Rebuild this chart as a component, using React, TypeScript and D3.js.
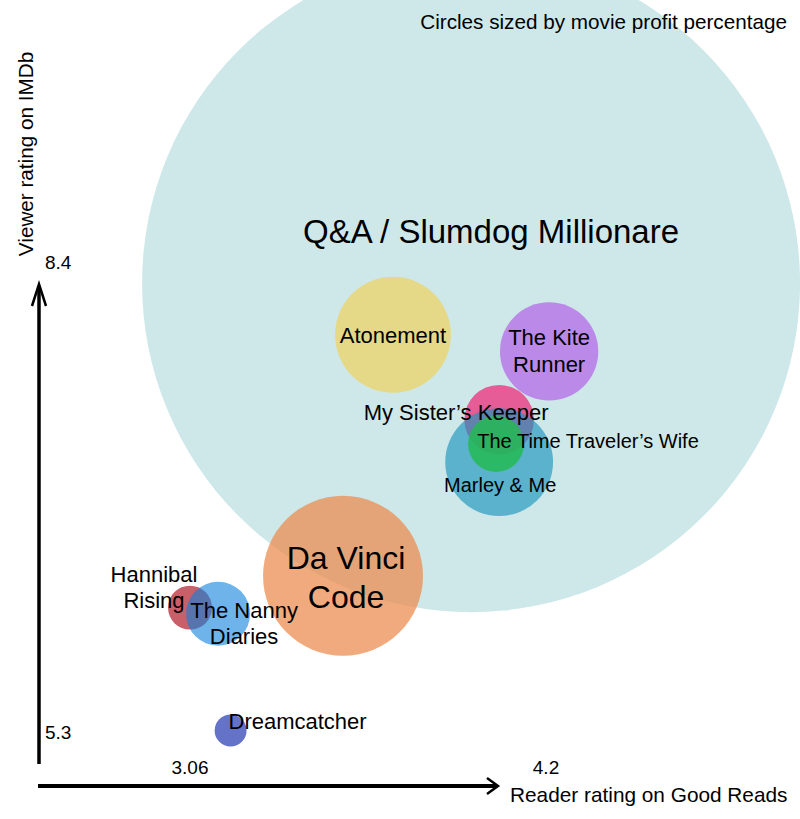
import React from "react";
import * as d3 from "d3";

// ---- data ----
const movies = [
  "Q&A / Slumdog Millionare",
  "Da Vinci Code",
  "Atonement",
  "The Kite Runner",
  "My Sister’s Keeper",
  "Marley & Me",
  "The Time Traveler’s Wife",
  "Hannibal Rising",
  "The Nanny Diaries",
  "Dreamcatcher",
];
const goodReadsRating = [3.96, 3.55, 3.71, 4.21, 4.05, 4.05, 4.04, 3.06, 3.15, 3.19];
const imdbRating = [8.28, 6.35, 7.94, 7.83, 7.38, 7.1, 7.22, 6.14, 6.1, 5.33];
const profitPct = [2420, 143, 75, 54, 27, 65, 17.5, 10.8, 22.9, 5.7];

const xTicks = [3.06, 4.2];
const yTicks = [5.3, 8.4];

// ---- styles / layout (not data) ----
const fills = [
  { c: "#cee8ea", o: 1 },
  { c: "rgb(235,142,82)", o: 0.75 },
  { c: "#e5d987", o: 1 },
  { c: "#bb89e8", o: 1 },
  { c: "#e65c96", o: 1 },
  { c: "rgb(28,149,188)", o: 0.65 },
  { c: "rgb(37,186,82)", o: 0.85 },
  { c: "#c85f69", o: 1 },
  { c: "rgb(13,130,222)", o: 0.6 },
  { c: "#6473c8", o: 1 },
];

// label layout: lines, offsets relative to bubble center, font size, anchor
const labelLayout = [
  { lines: ["Q&A / Slumdog Millionare"], dx: 20, dy: [-40], fs: 33, anchor: "middle" },
  { lines: ["Da Vinci", "Code"], dx: 3, dy: [-7, 32], fs: 32, anchor: "middle" },
  { lines: ["Atonement"], dx: 0, dy: [8], fs: 22, anchor: "middle" },
  { lines: ["The Kite", "Runner"], dx: 0, dy: [-6, 21], fs: 22, anchor: "middle" },
  { lines: ["My Sister’s Keeper"], dx: -43, dy: [0], fs: 22, anchor: "middle" },
  { lines: ["Marley & Me"], dx: 1, dy: [30], fs: 20, anchor: "middle" },
  { lines: ["The Time Traveler’s Wife"], dx: 92, dy: [4], fs: 20, anchor: "middle" },
  { lines: ["Hannibal", "Rising"], dx: -36, dy: [-26, 0], fs: 22, anchor: "middle" },
  { lines: ["The Nanny", "Diaries"], dx: 26, dy: [4, 30], fs: 22, anchor: "middle" },
  { lines: ["Dreamcatcher"], dx: 67, dy: [-1], fs: 22, anchor: "middle" },
];

const W = 800;
const H = 819;
const FONT = "'Liberation Sans', Arial, Helvetica, sans-serif";

const x = d3.scaleLinear().domain([3.06, 4.2]).range([190, 546]);
const y = d3.scaleLinear().domain([5.3, 8.4]).range([735, 265]);
const r = d3.scaleSqrt().domain([0, 2420]).range([0, 329]);

const axisX0 = 38;
const axisXEnd = 498;
const axisY = 786;
const yAxisX = 39;
const yAxisTop = 284;
const yAxisBottom = 764;

export default function App() {
  return (
    <svg
      width={W}
      height={H}
      viewBox={`0 0 ${W} ${H}`}
      style={{ position: "absolute", left: 0, top: 0, display: "block", background: "#fff" }}
      fontFamily={FONT}
    >
      {/* bubbles */}
      <g>
        {movies.map((m, i) => (
          <circle
            key={m}
            cx={x(goodReadsRating[i])}
            cy={y(imdbRating[i])}
            r={r(profitPct[i])}
            fill={fills[i].c}
            fillOpacity={fills[i].o}
          />
        ))}
      </g>

      {/* labels */}
      <g fill="#000">
        {movies.map((m, i) => {
          const L = labelLayout[i];
          const cx = x(goodReadsRating[i]) + L.dx;
          const cy = y(imdbRating[i]);
          return (
            <text key={m} textAnchor={L.anchor} fontSize={L.fs}>
              {L.lines.map((ln, j) => (
                <tspan key={j} x={cx} y={cy + L.dy[j]}>
                  {ln}
                </tspan>
              ))}
            </text>
          );
        })}
      </g>

      {/* title */}
      <text x={787} y={29} textAnchor="end" fontSize={20.7} fill="#000">
        Circles sized by movie profit percentage
      </text>

      {/* y axis */}
      <line x1={yAxisX} x2={yAxisX} y1={yAxisTop + 2} y2={yAxisBottom} stroke="#000" strokeWidth={3.5} />
      <polyline
        points={`${yAxisX - 7},${yAxisTop + 22} ${yAxisX},${yAxisTop} ${yAxisX + 7},${yAxisTop + 22}`}
        fill="none"
        stroke="#000"
        strokeWidth={2.5}
      />
      {yTicks.map((t) => (
        <text key={t} x={45} y={y(t) + 4} fontSize={19} fill="#000">
          {t}
        </text>
      ))}
      <text
        transform={`translate(33, 154) rotate(-90)`}
        textAnchor="middle"
        fontSize={20.7}
        fill="#000"
      >
        Viewer rating on IMDb
      </text>

      {/* x axis */}
      <line x1={axisX0} x2={axisXEnd - 2} y1={axisY} y2={axisY} stroke="#000" strokeWidth={4} />
      <polyline
        points={`${axisXEnd - 11},${axisY - 8} ${axisXEnd},${axisY} ${axisXEnd - 11},${axisY + 8}`}
        fill="none"
        stroke="#000"
        strokeWidth={2.5}
      />
      {xTicks.map((t) => (
        <text key={t} x={x(t)} y={774} textAnchor="middle" fontSize={19} fill="#000">
          {t}
        </text>
      ))}
      <text x={510} y={802} fontSize={20.8} fill="#000">
        Reader rating on Good Reads
      </text>
    </svg>
  );
}
